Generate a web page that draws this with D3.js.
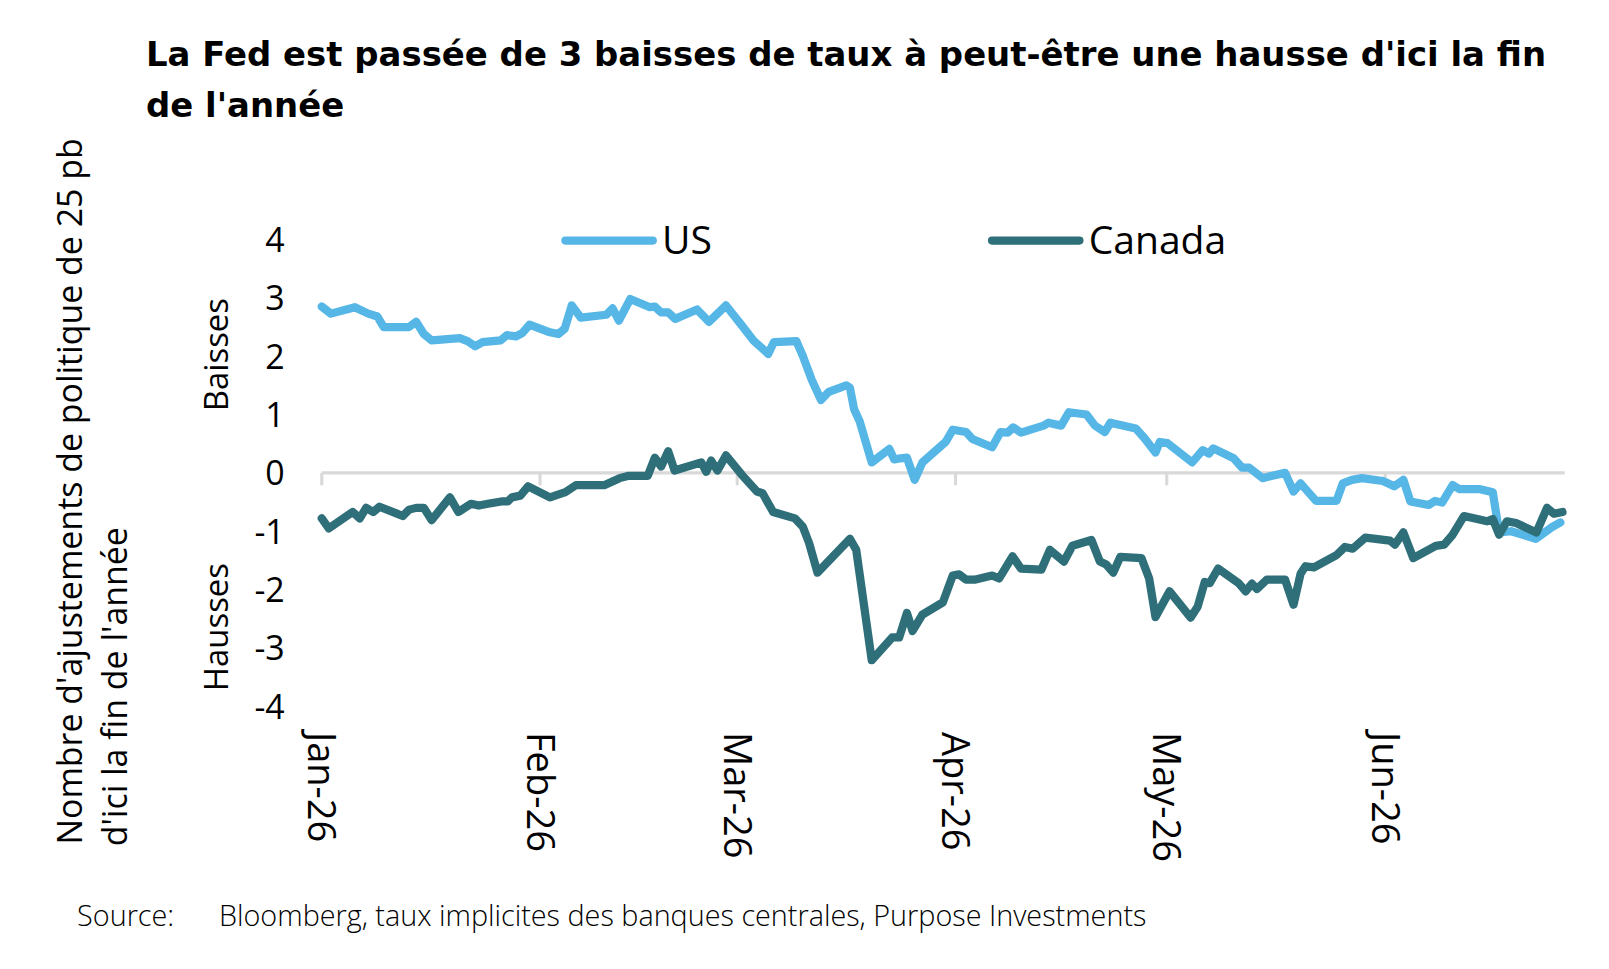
<!DOCTYPE html>
<html><head><meta charset="utf-8">
<script src="https://cdn.jsdelivr.net/npm/d3@7"></script>
<style>body{margin:0;background:#fff;font-family:"Liberation Sans",Arial,sans-serif}</style>
</head><body>
<script>
// days since 1 Jan 2026, number of 25bp moves (positive = cuts)
const usDays = [0,1.3,4.7,6.6,7.9,8.8,12.4,13.4,14.5,15.6,19.6,20.7,21.8,22.8,25.4,26.3,27.6,28.5,29.5,32.4,33.6,34.5,35.5,36.8,40.4,41.3,42.2,43.8,46.6,47.3,48.2,49.2,50.2,53.3,55.0,57.4,59.7,61.3,63.4,64.2,67.4,68.3,69.6,70.9,72.0,74.5,75.0,75.6,76.4,78.1,80.6,81.3,82.2,83.1,84.2,85.3,88.6,89.6,91.5,92.4,95.2,96.4,97.4,98.2,99.3,102.5,103.2,105.0,106.1,108.6,109.8,111.2,112.0,115.6,116.8,118.4,119.0,120.1,123.6,125.1,126.0,126.6,129.5,130.7,131.7,133.6,135.3,136.8,138.0,139.0,141.2,144.1,145.0,146.3,147.7,150.7,152.3,153.6,154.6,157.2,158.1,159.1,160.6,161.6,164.5,166.3,167.2,168.9,172.4,174.7,175.9];
const usVals = [2.85,2.73,2.84,2.73,2.68,2.50,2.50,2.59,2.38,2.27,2.31,2.26,2.17,2.24,2.27,2.36,2.34,2.40,2.54,2.41,2.38,2.47,2.87,2.66,2.71,2.82,2.61,2.98,2.84,2.85,2.75,2.75,2.64,2.80,2.59,2.87,2.52,2.27,2.04,2.24,2.26,2.01,1.59,1.25,1.39,1.50,1.46,1.09,0.88,0.18,0.41,0.23,0.25,0.26,-0.12,0.18,0.53,0.74,0.70,0.58,0.44,0.70,0.69,0.78,0.69,0.81,0.86,0.81,1.04,1.00,0.81,0.70,0.86,0.76,0.60,0.35,0.53,0.51,0.18,0.39,0.33,0.42,0.25,0.09,0.09,-0.09,-0.04,0,-0.32,-0.18,-0.48,-0.48,-0.18,-0.12,-0.09,-0.14,-0.23,-0.12,-0.49,-0.55,-0.48,-0.51,-0.21,-0.28,-0.28,-0.33,-1.02,-1.00,-1.13,-0.93,-0.85];
const caDays = [0,1.0,4.4,5.4,6.3,7.3,8.2,10.5,11.5,12.4,13.4,14.5,15.6,18.2,19.4,21.2,22.3,23.6,25.5,26.4,27.0,28.2,29.3,32.4,34.6,36.1,37.1,40.1,42.3,43.6,46.3,47.3,48.2,49.2,50.1,53.9,54.6,55.3,56.2,57.4,59.7,61.8,62.6,64.1,67.2,68.3,69.2,70.4,75.0,75.9,78.1,81.0,82.0,83.1,83.9,85.3,88.2,89.6,90.5,91.5,92.7,95.2,96.2,98.1,99.3,102.2,103.4,105.4,106.6,109.3,110.5,111.4,112.4,113.4,116.4,117.5,118.4,120.4,123.4,124.4,125.4,126.1,127.3,130.2,131.2,132.1,132.8,134.2,136.8,138.0,139.0,139.7,140.9,144.1,145.3,146.4,148.2,151.7,152.4,153.6,155.0,158.2,159.4,160.6,162.2,165.5,166.3,167.2,168.3,169.6,172.5,174.0,175.0,176.2];
const caVals = [-0.78,-0.95,-0.67,-0.78,-0.60,-0.67,-0.58,-0.69,-0.74,-0.63,-0.60,-0.60,-0.81,-0.42,-0.67,-0.53,-0.56,-0.53,-0.49,-0.49,-0.42,-0.39,-0.23,-0.42,-0.33,-0.21,-0.21,-0.21,-0.09,-0.05,-0.05,0.26,0.11,0.37,0.04,0.18,0.02,0.21,0.04,0.30,-0.04,-0.32,-0.35,-0.67,-0.78,-0.92,-1.20,-1.71,-1.13,-1.32,-3.21,-2.82,-2.82,-2.40,-2.71,-2.43,-2.22,-1.76,-1.74,-1.83,-1.83,-1.76,-1.81,-1.43,-1.64,-1.66,-1.32,-1.52,-1.25,-1.15,-1.52,-1.57,-1.71,-1.44,-1.46,-1.81,-2.47,-2.03,-2.48,-2.29,-1.87,-1.89,-1.64,-1.89,-2.03,-1.90,-1.99,-1.83,-1.83,-2.26,-1.73,-1.60,-1.62,-1.41,-1.27,-1.30,-1.11,-1.16,-1.23,-1.02,-1.46,-1.25,-1.23,-1.06,-0.74,-0.83,-0.79,-1.06,-0.83,-0.86,-1.02,-0.60,-0.70,-0.67];
const yTicks = [4,3,2,1,0,-1,-2,-3,-4];
const series = [
  {name: "US", days: usDays, vals: usVals, color: "#56b6e6"},
  {name: "Canada", days: caDays, vals: caVals, color: "#2e6f79"}
];

const W = 1609, H = 969;
const start = new Date(2026, 0, 1);
const toDate = d => new Date(start.getTime() + d * 86400000);
const FONT = "'Open Sans',sans-serif";

const svg = d3.select("body").append("svg").attr("width", W).attr("height", H);
// layout worked out on a ~1565px-wide view, scaled up to the real page
const g = svg.append("g").attr("transform", "scale(1.028)");

const x = d3.scaleTime().domain([start, toDate(176.5)]).range([313, 1522]);
const y = d3.scaleLinear().domain([-4, 4]).range([687, 233]);

// title
g.append("text").attr("x", 142).attr("y", 64).text("La Fed est passée de 3 baisses de taux à peut-être une hausse d'ici la fin")
  .style("font-size", "33px").style("font-weight", "bold").style("font-family", "'DejaVu Sans',sans-serif");
g.append("text").attr("x", 142).attr("y", 114).text("de l'année")
  .style("font-size", "33px").style("font-weight", "bold").style("font-family", "'DejaVu Sans',sans-serif");

// y tick labels
g.selectAll(".yt").data(yTicks).enter().append("text")
  .attr("x", 277).attr("y", d => y(d) + 12).attr("text-anchor", "end")
  .style("font-size", "33px").style("font-family", FONT)
  .text(d => d < 0 ? "-" + Math.abs(d) : d);

// zero axis + month ticks
g.append("line").attr("x1", 313).attr("x2", 1522).attr("y1", y(0)).attr("y2", y(0))
  .attr("stroke", "#d9d9d9").attr("stroke-width", 3);
const months = d3.timeMonth.range(start, toDate(176.5));
g.selectAll(".mt").data(months).enter().append("line")
  .attr("x1", d => x(d)).attr("x2", d => x(d)).attr("y1", y(0)).attr("y2", y(0) + 12)
  .attr("stroke", "#d9d9d9").attr("stroke-width", 3);
const fmt = d3.timeFormat("%b-%y");
g.selectAll(".ml").data(months).enter().append("text")
  .attr("transform", d => `translate(${x(d) - 13},712) rotate(90)`)
  .style("font-size", "37px").style("font-family", FONT)
  .text(fmt);

// lines
const line = d3.line().x(p => x(toDate(p[0]))).y(p => y(p[1]));
series.forEach(s => {
  g.append("path").datum(s.days.map((d, i) => [d, s.vals[i]]))
    .attr("d", line).attr("fill", "none").attr("stroke", s.color)
    .attr("stroke-width", 8).attr("stroke-linejoin", "round").attr("stroke-linecap", "round");
});

// legend
const leg = [{x: 550}, {x: 965}];
series.forEach((s, i) => {
  g.append("line").attr("x1", leg[i].x).attr("x2", leg[i].x + 85).attr("y1", 234).attr("y2", 234)
    .attr("stroke", s.color).attr("stroke-width", 8).attr("stroke-linecap", "round");
  g.append("text").attr("x", leg[i].x + 94).attr("y", 247).text(s.name)
    .style("font-size", "38px").style("font-family", FONT);
});

// axis side labels
const rot = (tx, ty, t, size) => g.append("text")
  .attr("transform", `translate(${tx},${ty}) rotate(-90)`).attr("text-anchor", "middle")
  .style("font-size", size + "px").style("font-family", FONT).text(t);
rot(222, 345, "Baisses", 32);
rot(222, 610, "Hausses", 32);
rot(80, 478, "Nombre d'ajustements de politique de 25 pb", 33);
rot(124, 668, "d'ici la fin de l'année", 33);

// source
g.append("text").attr("x", 75).attr("y", 901)
  .style("font-size", "28px").style("font-family", FONT).style("font-weight", 300)
  .text("Source:");
g.append("text").attr("x", 213).attr("y", 901)
  .style("font-size", "28px").style("font-family", FONT).style("font-weight", 300)
  .text("Bloomberg, taux implicites des banques centrales, Purpose Investments");
</script>
</body></html>
